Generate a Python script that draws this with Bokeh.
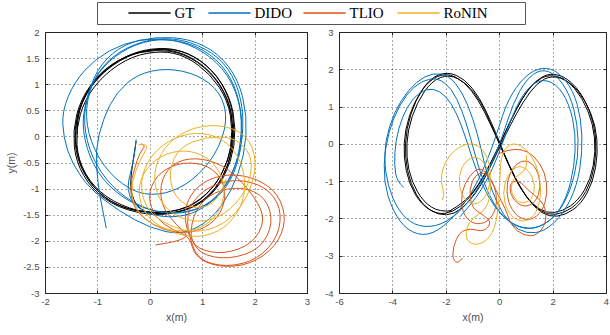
from bokeh.plotting import figure
from bokeh.models import (Range1d, FixedTicker, CustomJSTickFormatter, LinearAxis,
                          CustomLabelingPolicy)
from bokeh.layouts import column, row
from bokeh.embed import file_html
from bokeh.resources import INLINE

series_names = ["GT", "DIDO", "TLIO", "RoNIN"]
series_colors = ["#000000", "#0072BD", "#D95319", "#EDB120"]

left_xticks = [-2, -1, 0, 1, 2, 3]
left_yticks = [-3, -2.5, -2, -1.5, -1, -0.5, 0, 0.5, 1, 1.5, 2]
right_xticks = [-6, -4, -2, 0, 2, 4]
right_yticks = [-4, -3, -2, -1, 0, 1, 2, 3]

# ---------------- left panel (circle) ----------------
gt_left = [
    (-0.27, -0.08), (-0.32, -0.4), (-0.37, -0.75), (-0.38, -1.05), (-0.25, -1.35),
    (0.05, -1.5), (0.7, -1.42), (1.2, -1.08), (1.5, -0.55), (1.6, 0.1), (1.5, 0.72), (1.17, 1.25), (0.67, 1.6),
    (0.15, 1.7), (-0.45, 1.57), (-0.97, 1.22), (-1.33, 0.72), (-1.48, 0.12), (-1.42, -0.48), (-1.12, -1.0), (-0.62, -1.36),
    (0.1, -1.52), (0.75, -1.4), (1.22, -1.05), (1.52, -0.5), (1.62, 0.12), (1.52, 0.75), (1.2, 1.28), (0.7, 1.63),
    (0.2, 1.72), (-0.4, 1.6), (-0.92, 1.25), (-1.3, 0.75), (-1.46, 0.15), (-1.4, -0.45), (-1.1, -0.98), (-0.6, -1.35),
    (0.08, -1.47), (0.72, -1.38), (1.18, -1.02), (1.48, -0.5), (1.58, 0.1), (1.48, 0.7), (1.15, 1.2), (0.68, 1.55),
    (0.22, 1.65), (-0.35, 1.55), (-0.88, 1.2), (-1.25, 0.72), (-1.42, 0.15), (-1.38, -0.45), (-1.08, -0.97), (-0.58, -1.32),
    (0.12, -1.5), (0.78, -1.4), (1.25, -1.05), (1.55, -0.48), (1.64, 0.15), (1.52, 0.78), (1.18, 1.3), (0.72, 1.62),
    (0.25, 1.7), (-0.3, 1.62), (-0.85, 1.3), (-1.25, 0.82), (-1.44, 0.22), (-1.4, -0.4), (-1.12, -0.95), (-0.65, -1.33),
    (0.05, -1.48), (0.7, -1.38), (1.2, -1.0), (1.5, -0.45), (1.6, 0.15), (1.48, 0.75), (1.15, 1.25), (0.65, 1.6),
    (0.1, 1.68), (-0.5, 1.55), (-1.0, 1.2), (-1.3, 0.7), (-1.4, 0.3), (-1.4, 0.05),
]

dido_left = [
    (-0.27, -0.05), (-0.3, -0.35), (-0.38, -0.7), (-0.45, -1.0), (-0.3, -1.35), (0.2, -1.55), (0.8, -1.5),
    (1.3, -1.15), (1.65, -0.55), (1.78, 0.15), (1.65, 0.9), (1.28, 1.45), (0.72, 1.8), (0.1, 1.9), (-0.5, 1.8),
    (-1.05, 1.5), (-1.45, 1.05), (-1.68, 0.5), (-1.66, 0.0), (-1.5, -0.5), (-1.15, -1.0), (-0.6, -1.42),
    (0.0, -1.75), (0.6, -1.88), (1.15, -1.6), (1.55, -1.05), (1.8, -0.35), (1.85, 0.4), (1.68, 1.1), (1.3, 1.6),
    (0.75, 1.88), (0.1, 1.92), (-0.5, 1.78), (-0.95, 1.4), (-1.2, 0.85), (-1.28, 0.25), (-1.12, -0.4),
    (-0.75, -0.95), (-0.2, -1.35), (0.45, -1.5), (1.05, -1.35), (1.5, -0.9), (1.72, -0.25), (1.75, 0.5),
    (1.55, 1.15), (1.15, 1.6), (0.6, 1.85), (0.0, 1.87), (-0.55, 1.65), (-1.0, 1.25), (-1.25, 0.7), (-1.3, 0.1),
    (-1.1, -0.55), (-0.7, -1.05), (-0.1, -1.4), (0.55, -1.48), (1.15, -1.3), (1.55, -0.85), (1.75, -0.2),
    (1.78, 0.55), (1.58, 1.2), (1.2, 1.62), (0.6, 1.88), (0.0, 1.88), (-0.6, 1.65), (-1.05, 1.2), (-1.25, 0.55),
    (-1.15, -0.1), (-0.8, -0.7), (-0.25, -1.1), (0.3, -1.1), (0.8, -0.85), (1.25, -0.35), (1.48, 0.3),
    (1.35, 0.85), (0.9, 1.2), (0.3, 1.32), (-0.25, 1.2), (-0.65, 0.85), (-0.9, 0.35), (-1.05, -0.25),
    (-1.0, -0.9), (-0.92, -1.35), (-0.84, -1.75),
]

tlio_left = [
    (-0.18, -0.13), (-0.08, -0.16), (-0.2, -0.3), (-0.3, -0.6), (-0.4, -1.0), (-0.3, -1.4), (0.05, -1.7),
    (0.5, -1.85), (0.95, -1.8), (1.3, -1.55), (1.45, -1.15), (1.35, -0.75), (1.0, -0.5), (0.5, -0.5),
    (0.1, -0.75), (-0.05, -1.15), (0.1, -1.55), (0.45, -1.8), (0.75, -1.9),
    (0.85, -2.3), (1.3, -2.5), (1.9, -2.45), (2.4, -2.1), (2.6, -1.6), (2.45, -1.1), (2.05, -0.8), (1.5, -0.7),
    (1.0, -0.85), (0.7, -1.2), (0.65, -1.6), (0.75, -1.9),
    (0.9, -2.35), (1.45, -2.5), (2.05, -2.35), (2.45, -1.9), (2.5, -1.35), (2.2, -0.95), (1.65, -0.8),
    (1.1, -0.95), (0.75, -1.3), (0.7, -1.65), (0.75, -1.9),
    (0.95, -2.25), (1.5, -2.35), (2.1, -2.15), (2.35, -1.65), (2.2, -1.15), (1.75, -0.95), (1.2, -1.05),
    (0.85, -1.4), (0.75, -1.9),
    (0.9, -2.15), (1.4, -2.25), (1.95, -2.05), (2.2, -1.6), (2.0, -1.15), (1.5, -0.6), (1.0, -0.4), (0.5, -0.45),
    (0.2, -0.8), (0.2, -1.3), (0.5, -1.7), (0.75, -1.9),
    (0.45, -2.02), (0.1, -2.07),
]

ronin_left = [
    (-0.22, -0.15), (-0.1, -0.14), (-0.05, -0.2), (-0.2, -0.45), (-0.35, -0.85), (-0.35, -1.25), (-0.1, -1.6),
    (0.35, -1.8), (0.9, -1.8), (1.3, -1.5), (1.45, -1.0), (1.25, -0.5), (0.8, -0.25), (0.3, -0.3), (-0.1, -0.6),
    (-0.25, -1.05), (-0.1, -1.5), (0.3, -1.8), (0.9, -1.95), (1.45, -1.75), (1.8, -1.25), (1.8, -0.6),
    (1.5, -0.1), (1.0, 0.1), (0.45, 0.0), (0.0, -0.35), (-0.2, -0.85), (-0.1, -1.35), (0.25, -1.65),
    (0.8, -1.85), (1.4, -1.7), (1.85, -1.2), (2.05, -0.5), (1.85, 0.05), (1.3, 0.25), (0.7, 0.15), (0.25, -0.2),
    (0.05, -0.7), (0.15, -1.2), (0.5, -1.55), (1.05, -1.65), (1.55, -1.4), (1.9, -0.9), (1.95, -0.35),
    (1.6, 0.0), (1.05, 0.0), (0.55, -0.2), (0.35, -0.65), (0.45, -1.15), (0.85, -1.4), (1.3, -1.25), (1.45, -0.8),
]

# ---------------- right panel (figure eight) ----------------
gt_right = [
    (-1.9, -1.8), (-1.3, -1.55), (-0.75, -1.05), (-0.3, -0.45), (0.0, 0.0), (0.35, 0.55), (0.8, 1.2), (1.3, 1.68),
    (1.85, 1.88), (2.5, 1.75), (3.1, 1.25), (3.5, 0.55), (3.6, -0.2), (3.4, -0.95), (2.95, -1.5), (2.35, -1.8),
    (1.75, -1.85), (1.2, -1.6), (0.7, -1.1), (0.3, -0.5), (0.0, 0.0), (-0.35, 0.55), (-0.8, 1.2), (-1.35, 1.7),
    (-2.0, 1.92), (-2.65, 1.72), (-3.2, 1.15), (-3.55, 0.4), (-3.6, -0.35), (-3.4, -1.05), (-2.95, -1.6), (-2.35, -1.88),
    (-1.75, -1.82), (-1.2, -1.5), (-0.7, -1.0), (-0.28, -0.42), (0.02, 0.02), (0.38, 0.6), (0.85, 1.25), (1.35, 1.72),
    (1.9, 1.92), (2.55, 1.78), (3.15, 1.28), (3.55, 0.55), (3.63, -0.2), (3.45, -0.98), (3.0, -1.55), (2.4, -1.85),
    (1.8, -1.9), (1.25, -1.65), (0.75, -1.15), (0.32, -0.52), (0.02, 0.02), (-0.32, 0.6), (-0.75, 1.25), (-1.3, 1.75),
    (-1.95, 1.95), (-2.6, 1.78), (-3.15, 1.2), (-3.5, 0.42), (-3.55, -0.35), (-3.35, -1.05), (-2.9, -1.62), (-2.3, -1.9),
    (-1.7, -1.88), (-1.15, -1.55), (-0.65, -1.05), (-0.25, -0.45), (0.05, 0.0), (0.4, 0.52), (0.88, 1.15), (1.4, 1.65),
    (1.95, 1.85), (2.6, 1.7), (3.2, 1.2), (3.6, 0.5), (3.68, -0.25), (3.5, -1.0), (3.05, -1.6), (2.45, -1.9),
    (1.85, -1.95), (1.3, -1.7), (0.8, -1.2), (0.35, -0.55), (0.0, 0.0), (-0.3, 0.5), (-0.7, 1.15), (-1.25, 1.65),
    (-1.9, 1.88), (-2.55, 1.7), (-3.1, 1.12), (-3.45, 0.38), (-3.5, -0.35), (-3.3, -1.0), (-2.85, -1.55), (-2.25, -1.82),
    (-1.8, -1.78),
]

dido_right = [
    (-3.6, -1.15), (-3.85, -1.0), (-3.95, -0.55), (-3.9, 0.1), (-3.65, 0.75), (-3.25, 1.25), (-2.75, 1.5),
    (-2.25, 1.45), (-1.8, 1.1), (-1.45, 0.55), (-1.15, -0.1), (-0.85, -0.75), (-0.45, -1.4), (0.1, -1.95),
    (0.75, -2.25), (1.45, -2.25), (2.15, -1.9), (2.65, -1.25), (2.95, -0.35), (2.92, 0.55), (2.62, 1.35),
    (2.1, 1.88), (1.55, 2.02), (1.0, 1.75), (0.5, 1.1), (0.1, 0.2), (-0.35, -0.6), (-0.9, -1.3), (-1.6, -1.9),
    (-2.4, -2.22), (-3.2, -2.18), (-3.8, -1.78), (-4.2, -1.1), (-4.35, -0.3), (-4.15, 0.5), (-3.7, 1.2),
    (-3.1, 1.7), (-2.5, 1.92), (-1.9, 1.85), (-1.4, 1.4), (-1.0, 0.7), (-0.7, -0.1), (-0.45, -0.9), (-0.1, -1.6),
    (0.4, -2.15), (1.0, -2.4), (1.7, -2.33), (2.4, -1.85), (2.9, -1.1), (3.1, -0.2), (3.05, 0.7), (2.75, 1.45),
    (2.2, 1.95), (1.6, 2.08), (0.95, 1.85), (0.3, 1.2), (-0.1, 0.3), (-0.5, -0.5), (-1.1, -1.4), (-1.9, -2.1),
    (-2.7, -2.47), (-3.45, -2.32), (-4.0, -1.8), (-4.35, -1.0), (-4.3, -0.1), (-4.0, 0.7), (-3.5, 1.35),
    (-2.9, 1.72), (-2.3, 1.78), (-1.8, 1.5), (-1.4, 0.9), (-1.1, 0.2), (-0.8, -0.6), (-0.45, -1.3), (0.0, -1.85),
    (0.6, -2.22), (1.3, -2.28), (2.0, -2.0), (2.5, -1.45), (2.8, -0.6), (2.85, 0.3), (2.6, 1.1), (2.1, 1.65),
    (1.45, 1.75), (0.85, 1.35), (0.35, 0.55), (-0.05, -0.3), (-0.5, -1.0), (-1.0, -1.55), (-1.5, -1.95),
]

tlio_right = [
    (-0.05, -0.25), (0.3, -0.15), (0.8, -0.12), (1.3, -0.3), (1.7, -0.75), (1.8, -1.3), (1.6, -1.8), (1.15, -2.05),
    (0.65, -1.95), (0.3, -1.55), (0.25, -1.0), (0.55, -0.55), (1.0, -0.4), (1.4, -0.65), (1.55, -1.15),
    (1.35, -1.55), (0.9, -1.7), (0.45, -1.45), (0.35, -1.05), (0.7, -0.95), (1.1, -1.25), (1.7, -1.6),
    (1.75, -2.1), (1.4, -2.45), (0.9, -2.45), (0.45, -2.2), (0.2, -1.7), (-0.1, -1.3), (-0.4, -0.85),
    (-0.75, -0.6), (-1.15, -0.85), (-1.45, -1.3), (-1.4, -1.85), (-1.0, -2.15), (-0.45, -2.1), (-0.1, -1.7),
    (-0.15, -1.15), (-0.5, -0.75), (-0.9, -0.8), (-1.15, -1.2), (-1.05, -1.7), (-0.6, -1.9), (-0.3, -2.1),
    (-0.6, -2.35), (-1.1, -2.25), (-1.5, -2.35), (-1.75, -2.75), (-1.75, -3.1), (-1.55, -3.2), (-1.4, -3.05),
]

ronin_right = [
    (-2.15, -1.5), (-2.05, -1.35), (-2.2, -1.05), (-2.15, -0.65), (-1.9, -0.3), (-1.5, -0.05), (-1.0, 0.05),
    (-0.6, -0.15), (-0.35, -0.55), (-0.35, -1.1), (-0.6, -1.5), (-1.05, -1.65), (-1.45, -1.35), (-1.55, -0.85),
    (-1.3, -0.45), (-0.85, -0.3), (-0.45, -0.6), (-0.3, -1.2), (-0.5, -1.75), (-1.0, -1.95), (-1.3, -2.3),
    (-1.2, -2.65), (-0.7, -2.7), (-0.25, -2.4), (-0.05, -1.8), (0.0, -1.0), (0.05, -0.3), (0.35, 0.02),
    (0.8, 0.0), (1.2, -0.3), (1.5, -0.8), (1.55, -1.45), (1.3, -1.95), (0.8, -2.1), (0.3, -1.85), (0.1, -1.3),
    (0.3, -0.8), (0.7, -0.55), (1.1, -0.7), (1.35, -1.1), (1.2, -1.5), (0.75, -1.6), (0.4, -1.3), (0.5, -0.9),
    (0.9, -0.75), (1.05, -0.5), (1.0, -0.3),
]

left_series = [gt_left, dido_left, tlio_left, ronin_left]
right_series = [gt_right, dido_right, tlio_right, ronin_right]

AX = "#262626"
TXT = "#4d4d4d"

HIDE_LABELS = "const all = Array.from(indices); for (const i of all) indices.unset(i); return indices;"


def tick_only_axis(ticks):
    # box-style ticks on the top / right edges, no labels
    return LinearAxis(ticker=FixedTicker(ticks=ticks), major_label_text_font_size="1px",
                      major_label_policy=CustomLabelingPolicy(code=HIDE_LABELS),
                      major_label_standoff=0, major_tick_in=3, major_tick_out=0,
                      major_tick_line_color=AX, minor_tick_line_color=None, axis_line_color=None)


def make_panel(width, bl, br, xr, yr, xticks, yticks, ylabel):
    p = figure(width=width, height=335, x_range=Range1d(*xr), y_range=Range1d(*yr),
               output_backend="svg", toolbar_location=None,
               min_border_left=bl, min_border_right=br, min_border_top=32, min_border_bottom=42)
    p.xaxis.ticker = FixedTicker(ticks=xticks)
    p.yaxis.ticker = FixedTicker(ticks=yticks)
    p.xaxis.formatter = CustomJSTickFormatter(code="return String(tick);")
    p.yaxis.formatter = CustomJSTickFormatter(code="return String(tick);")
    p.axis.axis_line_color = AX
    p.axis.major_tick_line_color = AX
    p.axis.major_tick_in = 3
    p.axis.major_tick_out = 0
    p.axis.minor_tick_line_color = None
    p.axis.major_label_text_font = "Liberation Sans"
    p.axis.major_label_text_font_size = "9.5px"
    p.axis.major_label_text_color = TXT
    p.xaxis.major_label_standoff = 5
    p.yaxis.major_label_standoff = 6
    p.xaxis.axis_label = "x(m)"
    if ylabel:
        p.yaxis.axis_label = ylabel
    p.axis.axis_label_text_font = "Liberation Sans"
    p.axis.axis_label_text_font_style = "normal"
    p.axis.axis_label_text_font_size = "10.5px"
    p.axis.axis_label_text_color = TXT
    p.axis.axis_label_standoff = 3
    p.add_layout(tick_only_axis(xticks), "above")
    p.add_layout(tick_only_axis(yticks), "right")
    p.outline_line_color = AX
    p.outline_line_alpha = 1
    p.grid.grid_line_color = AX
    p.grid.grid_line_dash = "1 3"
    p.grid.grid_line_alpha = 0.8
    p.background_fill_color = "white"
    p.border_fill_alpha = 0
    return p


def draw_smooth(p, pts, color):
    # quadratic curve pieces: each typed point acts as the control point,
    # pieces join at midpoints of consecutive typed points
    n = len(pts)
    x0, y0, x1, y1, cx, cy = [], [], [], [], [], []
    for i in range(1, n - 1):
        if i == 1:
            sx, sy = pts[0]
        else:
            sx, sy = (pts[i - 1][0] + pts[i][0]) / 2, (pts[i - 1][1] + pts[i][1]) / 2
        if i == n - 2:
            ex, ey = pts[n - 1]
        else:
            ex, ey = (pts[i][0] + pts[i + 1][0]) / 2, (pts[i][1] + pts[i + 1][1]) / 2
        x0.append(sx); y0.append(sy); x1.append(ex); y1.append(ey)
        cx.append(pts[i][0]); cy.append(pts[i][1])
    p.quadratic(x0=x0, y0=y0, x1=x1, y1=y1, cx=cx, cy=cy, line_color=color, line_width=1)


p1 = make_panel(320, 45, 13, (-2, 3), (-3, 2), left_xticks, left_yticks, "y(m)")
p2 = make_panel(290, 19, 1, (-6, 4), (-4, 3), right_xticks, right_yticks, None)

for p, series in ((p1, left_series), (p2, right_series)):
    for pts, color in zip(series, series_colors):
        draw_smooth(p, pts, color)

# ---------------- legend strip (box spans both panels) ----------------
LEG_W, LEG_H = 428, 22          # legend box size in px
leg_item_left = [31, 111, 206, 300]   # left end of each swatch inside the box, px
SWATCH = 42
GAP = 4
SW_Y = 11.5                     # swatch row (pixel-aligned)

lf = figure(width=610, height=26, x_range=Range1d(0, LEG_W), y_range=Range1d(0, LEG_H),
            x_axis_type=None, y_axis_type=None, output_backend="svg", toolbar_location=None,
            min_border_left=97, min_border_right=610 - 97 - LEG_W, min_border_top=2, min_border_bottom=2,
            margin=(0, 0, -26, 0))
lf.grid.visible = False
lf.outline_line_color = "#555555"
lf.background_fill_color = "white"
lf.border_fill_alpha = 0
# swatches first (each drawn twice on the same pixel row), then the labels
for color, left in zip(series_colors, leg_item_left):
    lf.segment(x0=[left, left], y0=[SW_Y, SW_Y], x1=[left + SWATCH, left + SWATCH], y1=[SW_Y, SW_Y],
               line_color=color, line_width=1)
lf.text(x=[v + SWATCH + GAP for v in leg_item_left], y=[LEG_H / 2 + 0.7] * len(series_names),
        text=series_names, text_font={"value": "Liberation Serif"}, text_font_size={"value": "15px"},
        text_baseline="middle", text_align="left", text_color="#000000")

layout = column(lf, row(p1, p2))
open("out.html", "w").write(file_html(layout, INLINE))
